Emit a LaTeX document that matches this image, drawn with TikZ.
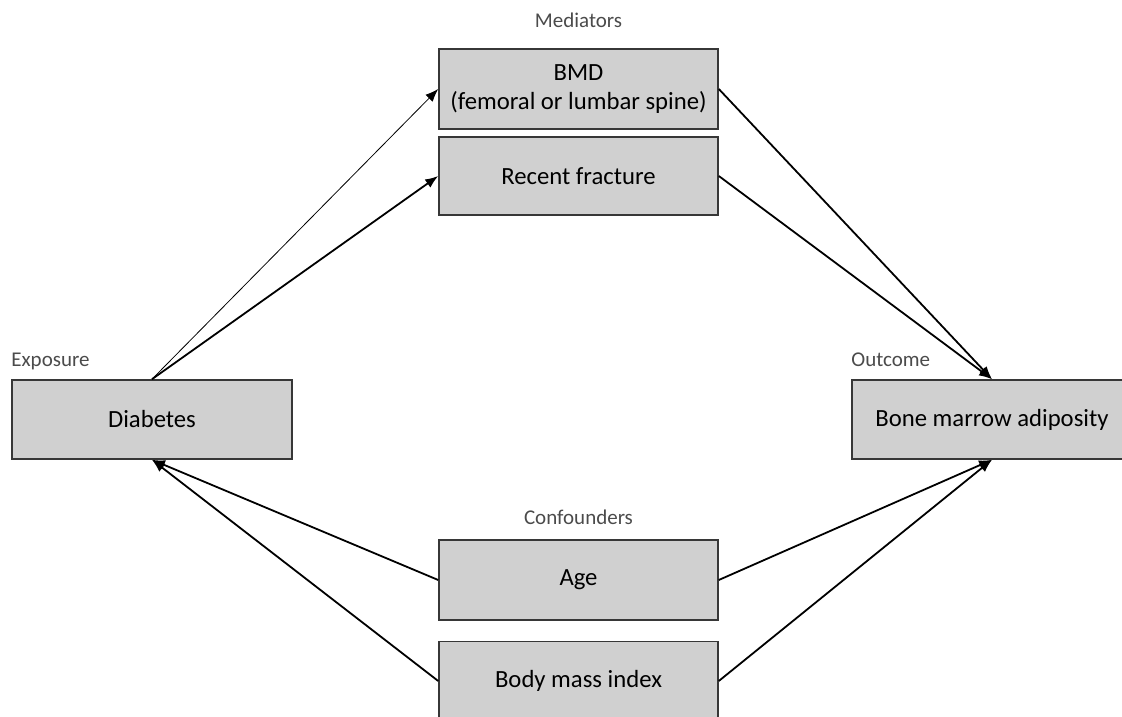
\documentclass[tikz,border=0pt]{standalone}
\usepackage{fontspec}
\setmainfont{Carlito}
\usetikzlibrary{positioning,arrows.meta}
\definecolor{boxgray}{RGB}{208,208,208}
\definecolor{edgegray}{RGB}{55,55,55}
\definecolor{labelgray}{RGB}{75,75,75}

\tikzset{
  dagbox/.style={draw=edgegray, fill=boxgray, line width=1.6pt,
    minimum width=279pt, minimum height=79pt, inner sep=0pt, align=center,
    font=\fontsize{24.7}{29.6}\selectfont},
  grouplbl/.style={text=labelgray, inner sep=0pt, font=\fontsize{21}{25}\selectfont},
  causal/.style={-{Latex[length=13pt,width=10pt]}, line width=1.8pt},
}

\begin{document}
\begin{tikzpicture}[x=1pt,y=1pt]
  \useasboundingbox (0,0) rectangle (1122,717);

  % exposure and outcome
  \node[dagbox, minimum width=280pt] (dia) at (152,297.5) {Diabetes};
  \node[dagbox, minimum width=280pt] (out) at (992,297.5) {Bone marrow adiposity};

  % mediators
  \node[dagbox, minimum height=80pt] (bmd) at (578.5,628) {BMD\\(femoral or lumbar spine)};
  \node[dagbox, minimum height=78pt] (frac) at (578.5,541) {Recent fracture};

  % confounders
  \node[dagbox, minimum height=80pt] (age) at (578.5,137) {Age};
  \node[dagbox] (bmi) at (578.5,36) {Body mass index};

  % group labels
  \node[grouplbl, above=21pt of bmd.north, anchor=base] (medlbl) {Mediators};
  \node[grouplbl, above=15pt of age.north, anchor=base] (conflbl) {Confounders};
  \node[grouplbl, above=13pt of dia.north west, anchor=base west] (explbl) {Exposure};
  \node[grouplbl, above=13pt of out.north west, anchor=base west] (outlbl) {Outcome};

  % paths through mediators
  \draw[causal, line width=0.8pt] (dia.north) -- (bmd.west);
  \draw[causal] (dia.north) -- (frac.west);
  \draw[causal] (bmd.east) -- (out.north);
  \draw[causal] (frac.east) -- (out.north);

  % confounding paths
  \draw[causal] (age.west) -- (dia.south);
  \draw[causal] (bmi.west) -- (dia.south);
  \draw[causal] (age.east) -- (out.south);
  \draw[causal] (bmi.east) -- (out.south);
\end{tikzpicture}
\end{document}
